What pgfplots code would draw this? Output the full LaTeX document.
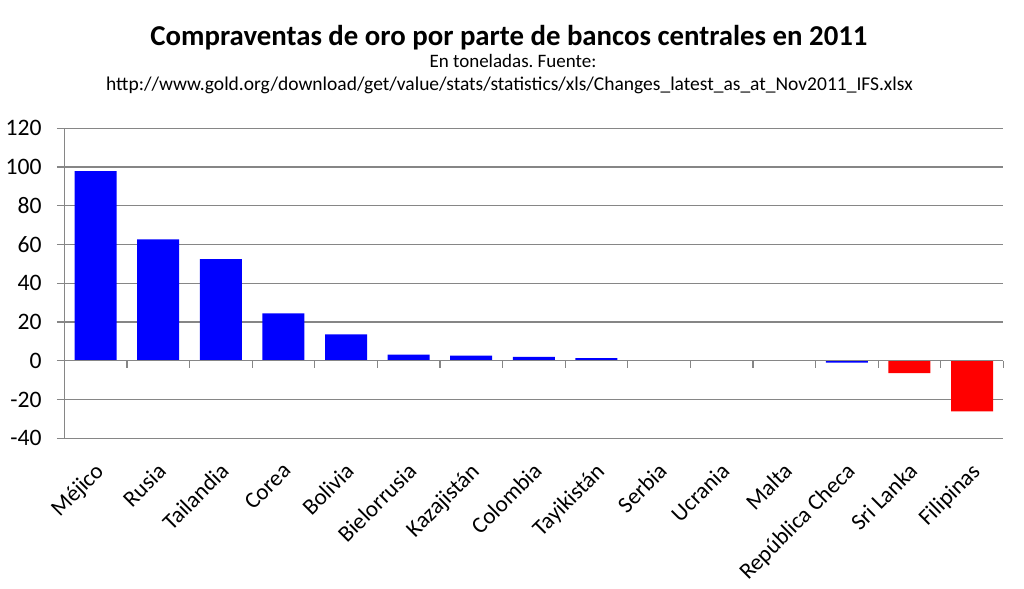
\documentclass[border=0pt]{standalone}
\usepackage{pgfplots}
\pgfplotsset{compat=1.18}
\usepackage{fontspec}
\setmainfont{Carlito}
\definecolor{gridgray}{RGB}{134,134,134}
\begin{document}
\frenchspacing
\begin{tikzpicture}
\useasboundingbox (0,0) rectangle (512pt,294.5pt);
\node[anchor=base,font=\bfseries\fontsize{14.4}{16}\selectfont] at (254.5pt,271.5pt) {Compraventas de oro por parte de bancos centrales en 2011};
\node[anchor=base,font=\fontsize{9.5}{11}\selectfont] at (256.5pt,260.5pt) {En toneladas. Fuente:};
\node[anchor=base,font=\fontsize{9.75}{11}\selectfont] at (254.75pt,249pt) {http://www.gold.org/download/get/value/stats/statistics/xls/Changes\_latest\_as\_at\_Nov2011\_IFS.xlsx};
\begin{axis}[
  at={(32.15pt,75.35pt)}, anchor=south west,
  scale only axis, width=469.5pt, height=155pt,
  xmin=-0.5, xmax=14.5, ymin=-40, ymax=120,
  ytick={-40,-20,0,20,40,60,80,100,120},
  ymajorgrids, grid style={gridgray, line width=0.6pt},
  axis y line*=left, axis x line*=bottom,
  x axis line style={draw=none},
  y axis line style={gridgray, line width=0.6pt},
  ytick style={gridgray, line width=0.6pt},
  xtick style={draw=none},
  tick align=outside, major tick length=3.75pt,
  xtick={0,...,14},
  xticklabels={Méjico,Rusia,Tailandia,Corea,Bolivia,Bielorrusia,Kazajistán,Colombia,Tayikistán,Serbia,Ucrania,Malta,República Checa,Sri Lanka,Filipinas},
  xticklabel style={xshift=-1pt, yshift=-6.2pt, rotate=45, anchor=north east, font=\fontsize{11.5}{13}\selectfont, inner sep=1pt},
  yticklabel style={xshift=-6.4pt, font=\fontsize{11.8}{13}\selectfont, inner sep=1pt},
  /pgf/number format/assume math mode=true,
  ybar, bar width=21pt, bar shift=0pt,
  clip=false,
]
\addplot[fill={rgb,255:red,0;green,0;blue,255}, draw=none] coordinates {
(0,97.9) (1,62.7) (2,52.5) (3,24.5) (4,13.6) (5,3.2) (6,2.7) (7,2.0) (8,1.4) (9,0) (10,0) (11,0) (12,-1.0)};
\addplot[fill={rgb,255:red,255;green,0;blue,0}, draw=none] coordinates {
(13,-6.3) (14,-26.1)};
\draw[gridgray, line width=0.6pt] (axis cs:-0.5,0) -- (axis cs:14.5,0);
\pgfplotsinvokeforeach{0,...,15}{
  \draw[gridgray, line width=0.6pt] (axis cs:#1-0.5,0) -- ++(0pt,-3.75pt);
}
\end{axis}
\end{tikzpicture}
\end{document}
